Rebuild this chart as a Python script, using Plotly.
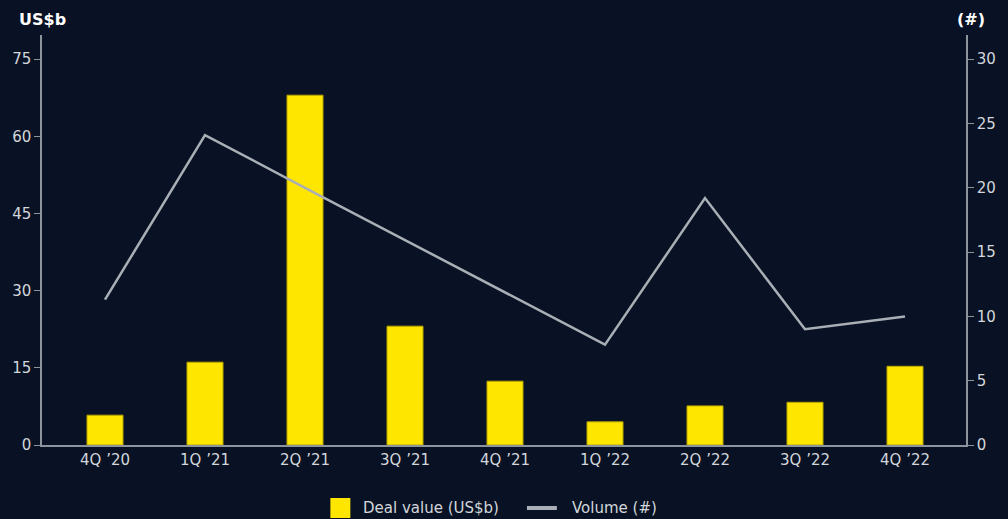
import plotly.graph_objects as go

quarters = ["4Q ’20", "1Q ’21", "2Q ’21", "3Q ’21", "4Q ’21", "1Q ’22", "2Q ’22", "3Q ’22", "4Q ’22"]
deal_value = [5.8, 16.1, 68.0, 23.1, 12.4, 4.5, 7.6, 8.3, 15.3]
volume = [11.3, 24.1, 20.0, 15.95, 11.9, 7.8, 19.2, 9.0, 10.0]
left_ticks = [0, 15, 30, 45, 60, 75]
right_ticks = [0, 5, 10, 15, 20, 25, 30]

BG = "#081224"
TXT = "#D3D6DB"
AX = "#8E949C"
YEL = "#FFE600"
LINEC = "#A9AFB5"
FONT = "DejaVu Sans"

# plot-area pixel geometry helpers (for legend placement only)
L, R, T, B = 42, 968, 35, 445
def px(x):
    return (x - L) / (R - L)
def py(y):
    return (B - y) / (B - T)

fig = go.Figure()
fig.add_trace(go.Bar(
    x=quarters, y=deal_value, name="Deal value (US$b)",
    marker=dict(color=YEL, line=dict(color="#B8A600", width=1)),
    width=0.36, yaxis="y",
))
fig.add_trace(go.Scatter(
    x=quarters, y=volume, name="Volume (#)", mode="lines",
    line=dict(color=LINEC, width=2.5), yaxis="y2",
))

shapes = [
    dict(type="rect", xref="paper", yref="paper",
         x0=px(331), x1=px(351), y0=py(518), y1=py(498),
         fillcolor=YEL, line=dict(width=0)),
    dict(type="rect", xref="paper", yref="paper",
         x0=px(528), x1=px(558), y0=py(510), y1=py(506),
         fillcolor=LINEC, line=dict(width=0)),
]

fig.update_layout(
    width=1008, height=519,
    paper_bgcolor=BG, plot_bgcolor=BG,
    margin=dict(l=L, r=1008 - R, t=T, b=519 - B),
    font=dict(family=FONT, color=TXT, size=15),
    showlegend=False,
    xaxis=dict(
        type="category", range=[-0.63, 8.61],
        showline=True, linecolor=AX, linewidth=1.5,
        showgrid=False, ticks="", tickfont=dict(size=15, color=TXT),
        zeroline=False,
    ),
    yaxis=dict(
        range=[0, 79.7], tickvals=left_ticks,
        showline=True, linecolor=AX, linewidth=1.5,
        ticks="outside", ticklen=6, tickcolor=AX, tickwidth=1,
        showgrid=False, zeroline=False, tickfont=dict(size=15, color=TXT),
    ),
    yaxis2=dict(
        range=[0, 31.88], tickvals=right_ticks, overlaying="y", side="right",
        showline=True, linecolor=AX, linewidth=1.5,
        ticks="outside", ticklen=6, tickcolor=AX, tickwidth=1,
        showgrid=False, zeroline=False, tickfont=dict(size=15, color=TXT),
    ),
    shapes=shapes,
    annotations=[
        dict(text="<b>US$b</b>", xref="paper", yref="paper", x=px(42), y=py(20),
             xanchor="center", yanchor="middle", showarrow=False,
             font=dict(size=16, color="#FFFFFF", family=FONT)),
        dict(text="<b>(#)</b>", xref="paper", yref="paper", x=px(973), y=py(20),
             xanchor="center", yanchor="middle", showarrow=False,
             font=dict(size=16, color="#FFFFFF", family=FONT)),
        dict(text="Deal value (US$b)", xref="paper", yref="paper", x=px(362), y=py(508),
             xanchor="left", yanchor="middle", showarrow=False,
             font=dict(size=15, color=TXT, family=FONT)),
        dict(text="Volume (#)", xref="paper", yref="paper", x=px(571), y=py(508),
             xanchor="left", yanchor="middle", showarrow=False,
             font=dict(size=15, color=TXT, family=FONT)),
    ],
)

fig.write_html(
    "out.html",
    config={"displayModeBar": False},
    post_script="document.body.style.margin='0';document.body.style.overflow='hidden';document.body.style.background='#081224';",
)
